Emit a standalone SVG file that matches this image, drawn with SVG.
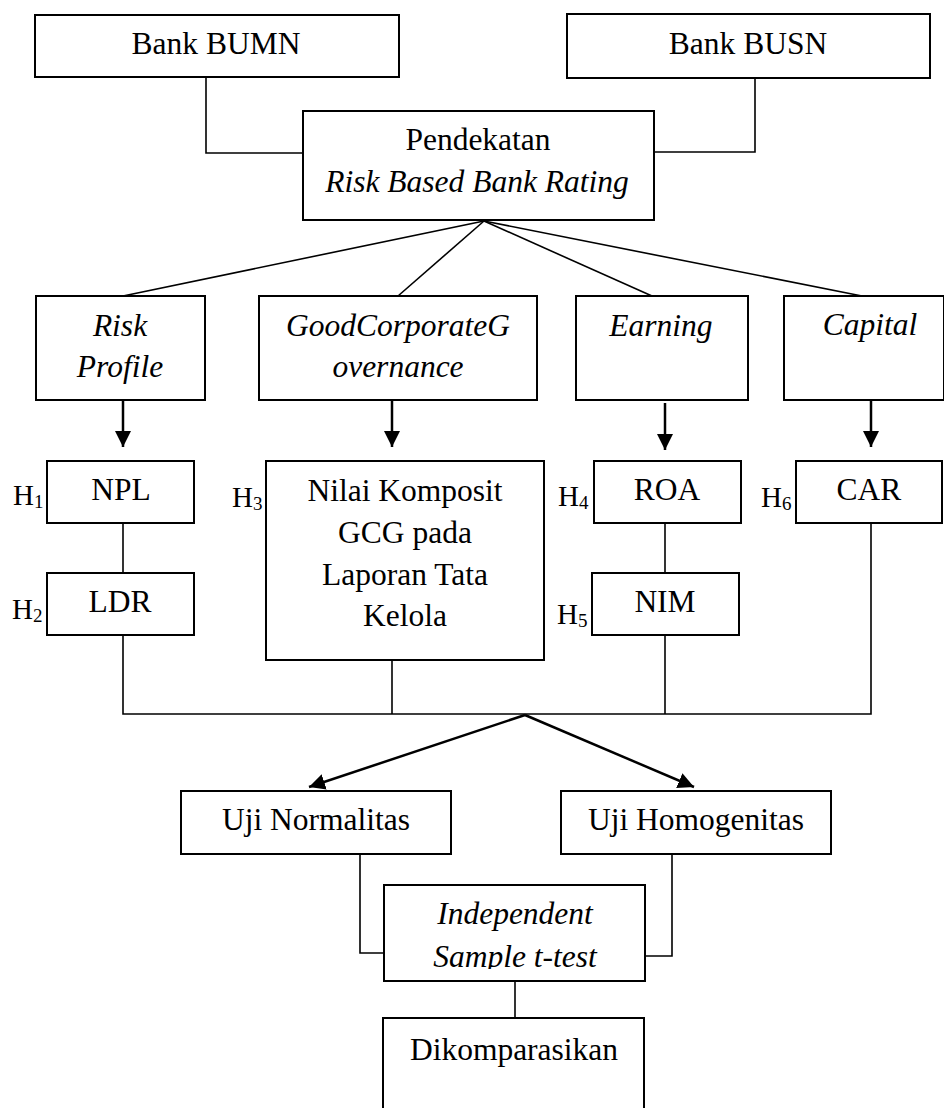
<svg xmlns="http://www.w3.org/2000/svg" width="944" height="1108" viewBox="0 0 944 1108">
<style>
.box{fill:#fff;stroke:#000;stroke-width:2}
.t{font-family:"Liberation Serif","Times New Roman",serif;font-size:31.5px;fill:#000;text-anchor:middle}
.i{font-style:italic}
.h{font-family:"Liberation Serif","Times New Roman",serif;font-size:29px;fill:#000}
.s{font-size:19px}
.c{fill:none;stroke:#000;stroke-width:1.6}
.a{fill:none;stroke:#000;stroke-width:2.5}
</style>
<defs>
<marker id="arr" markerUnits="userSpaceOnUse" markerWidth="17" markerHeight="16" refX="16" refY="8" orient="auto">
<path d="M0,0 L16,8 L0,16 z" fill="#000"/>
</marker>
<clipPath id="clipInd"><rect x="384" y="885" width="262" height="84"/></clipPath>
</defs>
<g id="connectors">
<polyline class="c" points="206,77 206,153 303,153"/>
<polyline class="c" points="755,78 755,152 654,152"/>
<line class="c" x1="484" y1="221" x2="123" y2="296"/>
<line class="c" x1="484" y1="221" x2="398" y2="296"/>
<line class="c" x1="484" y1="221" x2="652" y2="296"/>
<line class="c" x1="484" y1="221" x2="862" y2="296"/>
<line class="a" x1="123" y1="400" x2="123" y2="447" marker-end="url(#arr)"/>
<line class="a" x1="392" y1="400" x2="392" y2="447" marker-end="url(#arr)"/>
<line class="a" x1="665" y1="403" x2="665" y2="450" marker-end="url(#arr)"/>
<line class="a" x1="871" y1="400" x2="871" y2="447" marker-end="url(#arr)"/>
<line class="c" x1="123" y1="523" x2="123" y2="573"/>
<line class="c" x1="665" y1="523" x2="665" y2="573"/>
<polyline class="c" points="123,635 123,714 871,714 871,523"/>
<line class="c" x1="392" y1="660" x2="392" y2="714"/>
<line class="c" x1="665" y1="635" x2="665" y2="714"/>
<line class="a" x1="525" y1="715" x2="309" y2="787" marker-end="url(#arr)"/>
<line class="a" x1="525" y1="715" x2="694" y2="787" marker-end="url(#arr)"/>
<polyline class="c" points="360,854 360,953 384,953"/>
<polyline class="c" points="672,854 672,956 645,956"/>
<line class="c" x1="515" y1="981" x2="515" y2="1018"/>
</g>
<g id="bumn"><rect class="box" x="35" y="15" width="364" height="62"/><text class="t" x="216" y="54">Bank BUMN</text></g>
<g id="busn"><rect class="box" x="567" y="14" width="363" height="64"/><text class="t" x="748" y="54">Bank BUSN</text></g>
<g id="rbbr"><rect class="box" x="303" y="111" width="351" height="109"/><text class="t" x="478" y="150">Pendekatan</text><text class="t i" x="477" y="192">Risk Based Bank Rating</text></g>
<g id="riskprofile"><rect class="box" x="36" y="296" width="169" height="104"/><text class="t i" x="120" y="336">Risk</text><text class="t i" x="120" y="377">Profile</text></g>
<g id="gcg"><rect class="box" x="259" y="296" width="278" height="104"/><text class="t i" x="398" y="336">GoodCorporateG</text><text class="t i" x="398" y="377">overnance</text></g>
<g id="earning"><rect class="box" x="576" y="296" width="172" height="104"/><text class="t i" x="661" y="336">Earning</text></g>
<g id="capital"><rect class="box" x="784" y="296" width="160" height="104"/><text class="t i" x="870" y="335">Capital</text></g>
<g id="npl"><rect class="box" x="47" y="461" width="147" height="62"/><text class="t" x="121" y="500">NPL</text></g>
<g id="ldr"><rect class="box" x="47" y="573" width="147" height="62"/><text class="t" x="120" y="612">LDR</text></g>
<g id="nilai"><rect class="box" x="266" y="461" width="278" height="199"/><text class="t" x="405" y="501">Nilai Komposit</text><text class="t" x="405" y="543">GCG pada</text><text class="t" x="405" y="585">Laporan Tata</text><text class="t" x="405" y="626">Kelola</text></g>
<g id="roa"><rect class="box" x="594" y="461" width="147" height="62"/><text class="t" x="667" y="500">ROA</text></g>
<g id="nim"><rect class="box" x="592" y="573" width="147" height="62"/><text class="t" x="665" y="612">NIM</text></g>
<g id="car"><rect class="box" x="796" y="461" width="146" height="62"/><text class="t" x="869" y="500">CAR</text></g>
<g id="hyp">
<text class="h" x="13" y="505">H<tspan class="s" dy="3">1</tspan></text>
<text class="h" x="12" y="619">H<tspan class="s" dy="3">2</tspan></text>
<text class="h" x="232" y="507">H<tspan class="s" dy="3">3</tspan></text>
<text class="h" x="558" y="506">H<tspan class="s" dy="3">4</tspan></text>
<text class="h" x="557" y="624">H<tspan class="s" dy="3">5</tspan></text>
<text class="h" x="761" y="507">H<tspan class="s" dy="3">6</tspan></text>
</g>
<g id="normalitas"><rect class="box" x="181" y="791" width="270" height="63"/><text class="t" x="316" y="830">Uji Normalitas</text></g>
<g id="homogenitas"><rect class="box" x="561" y="791" width="270" height="63"/><text class="t" x="696" y="830">Uji Homogenitas</text></g>
<g id="ttest"><rect class="box" x="384" y="885" width="261" height="96"/><text class="t i" x="515" y="924">Independent</text><text class="t i" x="515" y="967" clip-path="url(#clipInd)">Sample t-test</text></g>
<g id="komparasi"><rect class="box" x="383" y="1018" width="261" height="100"/><text class="t" x="514" y="1060">Dikomparasikan</text></g>
</svg>
